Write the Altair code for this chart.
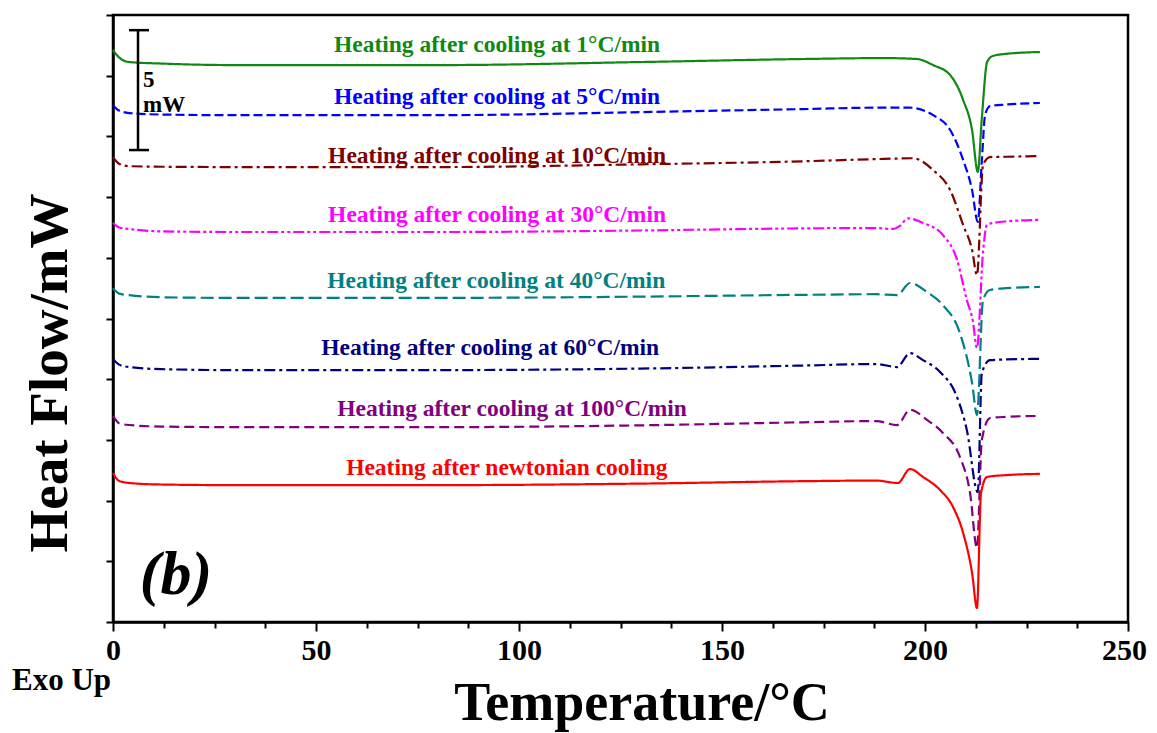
import altair as alt
import pandas as pd

series_names = [
    "Heating after cooling at 1°C/min",
    "Heating after cooling at 5°C/min",
    "Heating after cooling at 10°C/min",
    "Heating after cooling at 30°C/min",
    "Heating after cooling at 40°C/min",
    "Heating after cooling at 60°C/min",
    "Heating after cooling at 100°C/min",
    "Heating after newtonian cooling",
]
series_colors = ["#118811", "#0000FF", "#800000", "#FF00FF", "#008080", "#000080", "#800080", "#FF0000"]
series_dashes = [[1, 0], [9, 4], [11, 4, 3, 4], [11, 3, 3, 3, 3, 3], [13, 5], [11, 4, 3, 4], [10, 5], [1, 0]]

x_1 = [0, 1.5, 4, 12, 30, 80, 130, 170, 190, 198, 202, 206.2, 209.4, 211.6, 213.0, 214.0, 215.3, 216.7, 220, 228.3]
y_1 = [18.85, 18.6, 18.45, 18.4, 18.35, 18.35, 18.45, 18.55, 18.58, 18.55, 18.35, 18.02, 17.2, 16.2, 14.83, 16.6, 18.45, 18.65, 18.72, 18.78]

x_5 = [0, 1.5, 4, 12, 30, 80, 130, 170, 190, 196, 202, 206.2, 209.4, 211.6, 213.0, 214.0, 214.8, 216, 220, 228.3]
y_5 = [17.03, 16.85, 16.77, 16.72, 16.7, 16.7, 16.8, 16.9, 16.95, 16.95, 16.7, 16.21, 15.22, 14.23, 13.18, 15.2, 16.7, 17.0, 17.05, 17.1]

x_10 = [0, 1.5, 4, 12, 30, 80, 130, 170, 190, 197, 202, 206.2, 209.4, 211.6, 212.8, 214.3, 216, 220, 228.3]
y_10 = [15.32, 15.1, 15.02, 15.0, 14.99, 14.99, 15.08, 15.18, 15.26, 15.28, 14.89, 14.23, 13.08, 12.26, 11.43, 15.06, 15.32, 15.33, 15.35]

x_30 = [0, 1.5, 4, 12, 30, 80, 130, 170, 188, 192.1, 193.8, 195.8, 199.5, 204.4, 207.9, 210.3, 211.8, 212.8, 214.3, 215.3, 220, 228.3]
y_30 = [13.15, 13.0, 12.95, 12.87, 12.85, 12.85, 12.9, 12.97, 12.98, 12.95, 13.05, 13.3, 13.15, 12.75, 11.93, 10.61, 9.9, 9.03, 12.2, 13.1, 13.2, 13.25]

x_40 = [0, 1.5, 4, 12, 30, 80, 130, 170, 188, 193.1, 196.3, 200.5, 204.4, 208.6, 211.6, 212.8, 214.3, 216, 220, 228.3]
y_40 = [11.0, 10.82, 10.77, 10.7, 10.68, 10.68, 10.72, 10.78, 10.8, 10.77, 11.17, 10.87, 10.44, 9.52, 7.87, 6.82, 10.61, 10.94, 11.0, 11.04]

x_60 = [0, 1.5, 4, 12, 30, 80, 130, 170, 188, 193.1, 196.3, 199.5, 203.7, 207.9, 210.3, 213.0, 214.0, 216, 220, 228.3]
y_60 = [8.67, 8.48, 8.40, 8.33, 8.30, 8.30, 8.35, 8.45, 8.5, 8.40, 8.86, 8.63, 8.24, 7.41, 6.33, 4.28, 8.20, 8.63, 8.65, 8.67]

x_100 = [0, 1.5, 4, 12, 30, 80, 130, 170, 188, 193.1, 196.3, 200.5, 204.4, 208.6, 211.1, 212.8, 214.0, 216, 220, 228.3]
y_100 = [6.79, 6.55, 6.49, 6.44, 6.42, 6.42, 6.48, 6.58, 6.62, 6.49, 6.99, 6.66, 6.23, 5.44, 4.25, 2.44, 6.0, 6.72, 6.76, 6.79]

x_newt = [0, 1.5, 4, 12, 30, 80, 130, 170, 188, 193.3, 196.3, 199.5, 203.7, 206.9, 209.4, 211.6, 212.8, 213.8, 215.3, 220, 228.3]
y_newt = [4.91, 4.65, 4.58, 4.53, 4.51, 4.51, 4.56, 4.64, 4.66, 4.58, 5.04, 4.78, 4.35, 3.79, 2.93, 1.61, 0.46, 4.25, 4.78, 4.84, 4.88]

all_x = [x_1, x_5, x_10, x_30, x_40, x_60, x_100, x_newt]
all_y = [y_1, y_5, y_10, y_30, y_40, y_60, y_100, y_newt]

label_x = [94.6, 94.6, 94.6, 94.6, 94.4, 92.9, 98.3, 97.0]
label_y = [19.01, 17.30, 15.35, 13.41, 11.24, 9.03, 7.02, 5.07]

scale_bar_x = [6.16]
scale_bar_y = [15.55]
scale_bar_y2 = [19.5]
scale_cap_x = [3.94]
scale_cap_x2 = [8.87]

x_tick_values = [i * 12.5 for i in range(21)]
y_tick_values = list(range(21))

rows = []
for name, xs, ys in zip(series_names, all_x, all_y):
    for i, (a, b) in enumerate(zip(xs, ys)):
        rows.append({"series": name, "T": a, "HF": b, "i": i})
df = pd.DataFrame(rows)
labels_df = pd.DataFrame({"series": series_names, "T": label_x, "HF": label_y})

FONT = "Liberation Serif"
xscale = alt.Scale(domain=[0, 250], nice=False, zero=False)
yscale = alt.Scale(domain=[0, 20], nice=False, zero=False)
cscale = alt.Scale(domain=series_names, range=series_colors)

lines = alt.Chart(df).mark_line(strokeWidth=2.2, interpolate="monotone").encode(
    x=alt.X("T:Q", scale=xscale,
            axis=alt.Axis(values=x_tick_values, title=None,
                          labelExpr="datum.value % 50 == 0 ? datum.label : ''",
                          labelFont=FONT, labelFontSize=30, labelFontWeight="bold",
                          labelColor="black", labelPadding=4, tickWidth=2,
                          tickSize={"condition": {"test": "datum.value % 50 == 0", "value": 9}, "value": 6},
                          labelOffset={"condition": {"test": "datum.value == 250", "value": -4}, "value": 0},
                          tickColor="black", domainColor="black", domainWidth=2.5, grid=False,
                          labelFlush=False, labelOverlap=False)),
    y=alt.Y("HF:Q", scale=yscale,
            axis=alt.Axis(values=y_tick_values, labels=False, title=None, tickSize=7,
                          tickWidth=2, tickColor="black", domainColor="black",
                          domainWidth=2.5, grid=False)),
    color=alt.Color("series:N", scale=cscale, legend=None),
    strokeDash=alt.StrokeDash("series:N", scale=alt.Scale(domain=series_names, range=series_dashes), legend=None),
    order=alt.Order("i:Q"),
)

texts = alt.Chart(labels_df).mark_text(font=FONT, fontSize=23.5, fontWeight="bold", align="center", baseline="middle").encode(
    x=alt.X("T:Q", scale=xscale),
    y=alt.Y("HF:Q", scale=yscale),
    color=alt.Color("series:N", scale=cscale, legend=None),
    text="series:N",
)

bar_df = pd.DataFrame({"x": scale_bar_x, "y": scale_bar_y, "y2": scale_bar_y2})
bar = alt.Chart(bar_df).mark_rule(color="black", strokeWidth=2.5).encode(
    x=alt.X("x:Q", scale=xscale), y=alt.Y("y:Q", scale=yscale), y2="y2:Q")
cap_df = pd.DataFrame({"x": scale_cap_x * 2, "x2": scale_cap_x2 * 2, "y": scale_bar_y + scale_bar_y2})
caps = alt.Chart(cap_df).mark_rule(color="black", strokeWidth=2.5).encode(
    x=alt.X("x:Q", scale=xscale), x2="x2:Q", y=alt.Y("y:Q", scale=yscale))

bar_text_df = pd.DataFrame({"t": ["5", "mW"], "x": [7.4, 7.4], "y": [17.86, 17.03]})
bar_text = alt.Chart(bar_text_df).mark_text(font=FONT, fontSize=23, fontWeight="bold", align="left",
                                            baseline="middle", color="black").encode(
    x=alt.X("x:Q", scale=xscale), y=alt.Y("y:Q", scale=yscale), text="t:N")

panel = alt.Chart(pd.DataFrame({"t": ["(b)"], "x": [15.5], "y": [1.55]})).mark_text(
    font=FONT, fontSize=62, fontWeight="bold", fontStyle="italic", align="center",
    baseline="middle", color="black").encode(
    x=alt.X("x:Q", scale=xscale), y=alt.Y("y:Q", scale=yscale), text="t:N")

xtitle = alt.Chart(pd.DataFrame({"t": ["Temperature/°C"]})).mark_text(
    font=FONT, fontSize=54, fontWeight="bold", align="center", baseline="alphabetic", color="black").encode(
    x=alt.value(529), y=alt.value(705), text="t:N")
ytitle = alt.Chart(pd.DataFrame({"t": ["Heat Flow/mW"]})).mark_text(
    font=FONT, fontSize=55, fontWeight="bold", align="center", baseline="alphabetic", angle=270,
    color="black").encode(x=alt.value(-46), y=alt.value(358), text="t:N")
exo = alt.Chart(pd.DataFrame({"t": ["Exo Up"]})).mark_text(
    font=FONT, fontSize=31, fontWeight="bold", align="left", baseline="alphabetic", color="black").encode(
    x=alt.value(-101), y=alt.value(675), text="t:N")

chart = alt.layer(lines, texts, bar, caps, bar_text, panel, xtitle, ytitle, exo).properties(
    width=1015, height=607,
    autosize=alt.AutoSizeParams(type="none"),
    padding={"left": 105, "top": 7, "right": 21, "bottom": 110},
).configure(background="white").configure_view(stroke="black", strokeWidth=2.5)

chart.save("out.html", embed_options={"renderer": "svg", "actions": False})
